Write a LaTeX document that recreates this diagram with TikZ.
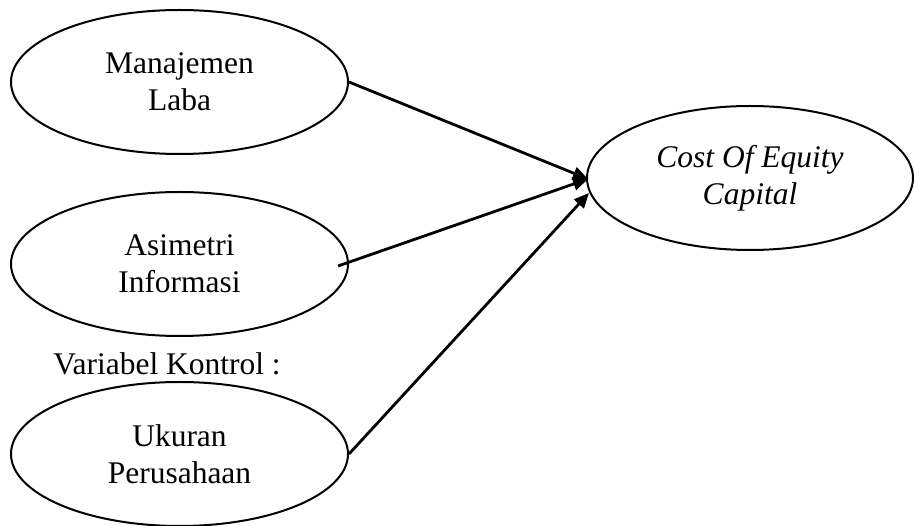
\documentclass[tikz,border=0pt]{standalone}
\usepackage{fontspec}
\setmainfont{Liberation Serif}
\usetikzlibrary{shapes.geometric,arrows.meta}
\tikzset{
  var/.style={ellipse, draw=black, line width=2pt, inner sep=0pt,
    minimum width=337pt, minimum height=144pt, align=center,
    font=\fontsize{31.5}{37}\selectfont},
  conn/.style={line width=2.8pt, -{Triangle[length=15pt,width=13pt]}},
  lbl/.style={font=\fontsize{31.5}{37}\selectfont, inner sep=0pt, anchor=base}
}
\begin{document}
\begin{tikzpicture}[x=1pt,y=-1pt]
\useasboundingbox (0,0) rectangle (914,526);
\node[var] (ml) at (179.5,82) {Manajemen\\Laba};
\node[var] (ai) at (179.5,264) {Asimetri\\Informasi};
\node[var] (up) at (179.5,454) {Ukuran\\Perusahaan};
\node[var, minimum width=326pt] (coe) at (750,178) {\itshape Cost Of Equity\\\itshape Capital};
\node[lbl] (vk) at (167,375) {Variabel Kontrol :};
\coordinate (aistart) at (338,266);
\coordinate (tip1) at (588,179);
\coordinate (tip3) at (589,193);
\draw[conn] (ml.east) -- (tip1);
\draw[conn] (aistart) -- (tip1);
\draw[conn] (up.east) -- (tip3);
\end{tikzpicture}
\end{document}
